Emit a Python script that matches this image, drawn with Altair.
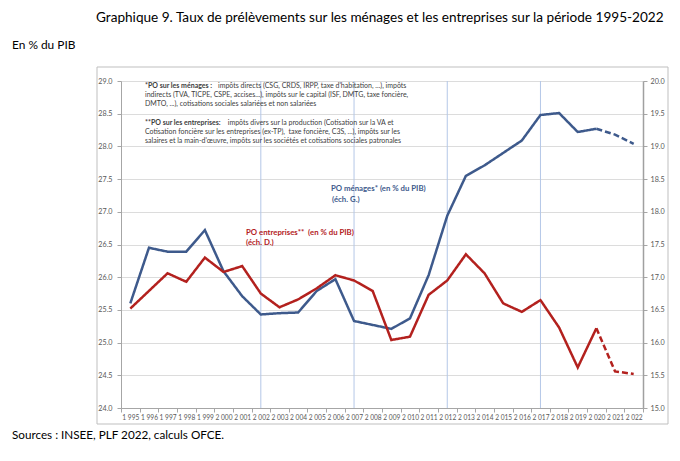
import altair as alt
import pandas as pd

FONT = "Lato"
BLUE = "#3e5a8c"
RED = "#b3211e"
TXT = "#404040"
NB = "\u00a0"

years = [1995, 1996, 1997, 1998, 1999, 2000, 2001, 2002, 2003, 2004,
         2005, 2006, 2007, 2008, 2009, 2010, 2011, 2012, 2013, 2014,
         2015, 2016, 2017, 2018, 2019, 2020, 2021, 2022]
# PO ménages (% du PIB), échelle gauche
menages = [25.60, 26.45, 26.39, 26.39, 26.72, 26.09, 25.71, 25.43, 25.45, 25.46,
           25.79, 25.97, 25.33, 25.27, 25.21, 25.37, 26.03, 26.94, 27.55, 27.71,
           27.90, 28.09, 28.48, 28.51, 28.22, 28.27, 28.18, 28.04]
# PO entreprises (% du PIB), échelle droite
entreprises = [16.52, 16.79, 17.06, 16.93, 17.30, 17.08, 17.17, 16.75, 16.54, 16.66,
               16.83, 17.03, 16.95, 16.79, 16.04, 16.09, 16.73, 16.95, 17.35, 17.06,
               16.60, 16.47, 16.65, 16.23, 15.62, 16.22, 15.56, 15.52]
elections = [2002, 2007, 2012, 2017]
left_ticks = [24.0, 24.5, 25.0, 25.5, 26.0, 26.5, 27.0, 27.5, 28.0, 28.5, 29.0]
right_ticks = [15.0, 15.5, 16.0, 16.5, 17.0, 17.5, 18.0, 18.5, 19.0, 19.5, 20.0]
last_observed = 2020


def lab(y):
    return f"{y // 1000} {y % 1000:03d}"


labels = [lab(y) for y in years]

rows = []
for y, m, e in zip(years, menages, entreprises):
    if y <= last_observed:
        rows.append(dict(lab=lab(y), men=m, ent=e, seg="solid"))
    if y >= last_observed:
        rows.append(dict(lab=lab(y), men=m, ent=e, seg="dash"))
df = pd.DataFrame(rows)
dummy = pd.DataFrame({"d": [0]})

x_enc = alt.X(
    "lab:O",
    scale=alt.Scale(type="band", domain=labels, paddingInner=0, paddingOuter=0),
    bandPosition=0.5,
    axis=alt.Axis(
        title=None, labelAngle=0, tickBand="extent", labelFontSize=6.6,
        labelColor="#595959", labelFont=FONT, labelOverlap=False, labelPadding=2,
        domainColor="#a6a6a6", tickColor="#a6a6a6", tickSize=4, grid=False,
    ),
)

dash_enc = alt.StrokeDash(
    "seg:N", scale=alt.Scale(domain=["solid", "dash"], range=[[1, 0], [6, 3]]), legend=None
)

rules = alt.Chart(pd.DataFrame({"lab": [lab(y) for y in elections]})).mark_rule(
    color="#b4c7e7", strokeWidth=1
).encode(x=x_enc)

blue = alt.Chart(df).mark_line(color=BLUE, strokeWidth=2.5).encode(
    x=x_enc,
    y=alt.Y(
        "men:Q",
        scale=alt.Scale(domain=[24, 29], nice=False, zero=False),
        axis=alt.Axis(
            orient="left", title=None, values=left_ticks, format=".1f",
            labelFontSize=7.2, labelColor="#595959", labelFont=FONT, labelPadding=5,
            domainColor="#a6a6a6", tickColor="#a6a6a6", tickSize=4,
            grid=True, gridColor="#dcdcdc", gridWidth=1,
        ),
    ),
    strokeDash=dash_enc,
)

red = alt.Chart(df).mark_line(color=RED, strokeWidth=2.5).encode(
    x=x_enc,
    y=alt.Y(
        "ent:Q",
        scale=alt.Scale(domain=[15, 20], nice=False, zero=False),
        axis=alt.Axis(
            orient="right", title=None, values=right_ticks, format=".1f",
            labelFontSize=7.2, labelColor="#595959", labelFont=FONT, labelPadding=3,
            domainColor="#a0a0a0", domainWidth=1.5, tickColor="#a6a6a6", tickSize=4,
            grid=False,
        ),
    ),
    strokeDash=dash_enc,
)


def txt(text, x, y, size=7.0, bold=False, color=TXT, baseline="middle"):
    return alt.Chart(dummy).mark_text(
        text=text, align="left", baseline=baseline, fontSize=size,
        fontWeight="bold" if bold else "normal", color=color, font=FONT,
    ).encode(x=alt.value(x), y=alt.value(y))


frame = alt.Chart(dummy).mark_rect(
    fill="white", fillOpacity=0, stroke="#bfbfbf", strokeWidth=1
).encode(x=alt.value(-24), x2=alt.value(547), y=alt.value(-14), y2=alt.value(343))

texts = [
    txt("Graphique 9. Taux de prélèvements sur les ménages et les entreprises sur la période 1995-2022",
        -25, -59.2, size=13.6, color="#000000", baseline="alphabetic"),
    txt("En % du PIB", -109, -36, size=11.9, color="#000000"),
    txt("Sources : INSEE, PLF 2022, calculs OFCE.", -109, 354, size=11.7, color="#000000"),
    txt("*PO sur les ménages :", 24, 4.7, bold=True),
    txt("impôts directs (CSG, CRDS, IRPP, taxe d'habitation, ...), impôts", 97, 4.7),
    txt("indirects (TVA, TICPE, CSPE, accises...), impôts sur le capital (ISF, DMTG, taxe foncière,", 24, 13.5),
    txt("DMTO, ...), cotisations sociales salariées et non salariées", 24, 23),
    txt("**PO sur les entreprises:", 24, 41.7, bold=True),
    txt("impôts divers sur la production (Cotisation sur la VA et", 106.7, 41.7),
    txt("Cotisation foncière sur les entreprises (ex-TP)," + NB + " taxe foncière, C3S, ...), impôts sur les", 24, 51),
    txt("salaires et la main-d'œuvre, impôts sur les sociétés et cotisations sociales patronales", 24, 59.7),
    txt("PO ménages* (en % du PIB)", 210, 108.3, size=7.8, bold=True, color=BLUE),
    txt("(éch. G.)", 211, 119, size=7.8, bold=True, color=BLUE),
    txt("PO entreprises**" + NB + " (en % du PIB)", 125, 151.7, size=7.8, bold=True, color=RED),
    txt("(éch. D.)", 125, 161.7, size=7.8, bold=True, color=RED),
]

chart = alt.layer(frame, rules, blue, red, *texts).resolve_scale(
    y="independent"
).properties(
    width=522,
    height=327,
    autosize=alt.AutoSizeParams(type="none"),
    padding={"left": 113, "top": 73, "right": 28, "bottom": 42},
).configure_view(stroke=None).configure(font=FONT)

chart.save("out.html", embed_options={"renderer": "svg", "actions": False})
